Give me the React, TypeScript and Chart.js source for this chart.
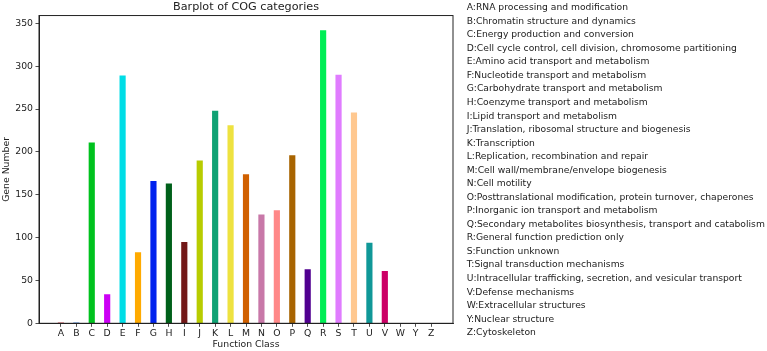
import React, { useEffect, useRef } from "react";
import { Chart, registerables } from "chart.js";

Chart.register(...registerables);

const categories = ["A","B","C","D","E","F","G","H","I","J","K","L","M","N","O","P","Q","R","S","T","U","V","W","Y","Z"];
const geneNumbers = [1,1,211,34,289,83,166,163,95,190,248,231,174,127,132,196,63,342,290,246,94,61,0,0,0];
const barColors = [
  "#d0404a","#3f7fd8","#00c21e","#cc00f5","#00dde6","#ffaa00","#0022ee","#00601a","#721818","#b8cc00",
  "#10a274","#eee240","#d06000","#c878a8","#ff8888","#a86400","#500090","#00ee55","#e07cff","#ffc890",
  "#109898","#cc0066","#888888","#888888","#888888"
];
const yTickValues = [0,50,100,150,200,250,300,350];
const descriptions = [
  "A:RNA processing and modification",
  "B:Chromatin structure and dynamics",
  "C:Energy production and conversion",
  "D:Cell cycle control, cell division, chromosome partitioning",
  "E:Amino acid transport and metabolism",
  "F:Nucleotide transport and metabolism",
  "G:Carbohydrate transport and metabolism",
  "H:Coenzyme transport and metabolism",
  "I:Lipid transport and metabolism",
  "J:Translation, ribosomal structure and biogenesis",
  "K:Transcription",
  "L:Replication, recombination and repair",
  "M:Cell wall/membrane/envelope biogenesis",
  "N:Cell motility",
  "O:Posttranslational modification, protein turnover, chaperones",
  "P:Inorganic ion transport and metabolism",
  "Q:Secondary metabolites biosynthesis, transport and catabolism",
  "R:General function prediction only",
  "S:Function unknown",
  "T:Signal transduction mechanisms",
  "U:Intracellular trafficking, secretion, and vesicular transport",
  "V:Defense mechanisms",
  "W:Extracellular structures",
  "Y:Nuclear structure",
  "Z:Cytoskeleton"
];

const INK = "#222222";

const frame = {
  id: "frame",
  afterDraw(chart: any) {
    const { ctx, chartArea } = chart;
    ctx.save();
    ctx.strokeStyle = INK;
    ctx.lineWidth = 1;
    ctx.strokeRect(chartArea.left, chartArea.top, chartArea.right - chartArea.left, chartArea.bottom - chartArea.top);
    ctx.restore();
  }
};

export default function App() {
  const ref = useRef<HTMLCanvasElement>(null);
  useEffect(() => {
    Chart.defaults.font.family = "'DejaVu Sans'";
    const n = categories.length;
    const maxV = Math.max(...geneNumbers);
    const chart = new Chart(ref.current!, {
      type: "bar",
      data: {
        datasets: [{
          data: categories.map((c, i) => ({ x: i, y: geneNumbers[i] })),
          backgroundColor: barColors,
          borderWidth: 0,
          barPercentage: 0.4,
          categoryPercentage: 1,
        }]
      },
      plugins: [frame],
      options: {
        responsive: false,
        devicePixelRatio: 1,
        animation: false,
        layout: { padding: { left: 0, top: 0, right: 314, bottom: 0 } },
        plugins: {
          legend: { display: false },
          tooltip: { enabled: false },
          title: {
            display: true,
            text: "Barplot of COG categories",
            fullSize: false,
            color: INK,
            font: { size: 11.2, weight: "normal", lineHeight: 1.2 },
            padding: { top: 0, bottom: 2.1 },
          },
        },
        scales: {
          x: {
            type: "linear",
            offset: false,
            min: -0.2 - 0.05 * (n - 1 + 0.4),
            max: n - 1 + 0.2 + 0.05 * (n - 1 + 0.4),
            afterBuildTicks: (s: any) => { s.ticks = categories.map((c, i) => ({ value: i })); },
            afterFit: (s: any) => { s.height = 27.7; },
            grid: { drawOnChartArea: false, color: INK, tickLength: 3.5, lineWidth: 0.8, offset: false },
            border: { display: true, color: INK, width: 1 },
            ticks: {
              autoSkip: false, maxRotation: 0, color: INK, padding: 1.5,
              font: { size: 9.3 },
              callback: (v: any) => categories[Math.round(v)] ?? "",
            },
            title: { display: true, text: "Function Class", color: INK, font: { size: 9.3 }, padding: { top: 0, bottom: 1.2 } },
          },
          y: {
            type: "linear",
            min: 0,
            max: maxV * 1.05,
            afterBuildTicks: (s: any) => { s.ticks = yTickValues.map((v) => ({ value: v })); },
            afterFit: (s: any) => { s.width = 39; },
            grid: { drawOnChartArea: false, color: INK, tickLength: 3.5, lineWidth: 0.8 },
            border: { display: true, color: INK, width: 1 },
            ticks: { color: INK, padding: 2.5, font: { size: 9.3 } },
            title: { display: true, text: "Gene Number", color: INK, font: { size: 9.3 }, padding: { top: 1.2, bottom: 0 } },
          },
        },
      } as any,
    });
    return () => chart.destroy();
  }, []);

  return (
    <div style={{ position: "fixed", left: 0, top: 0, width: 767, height: 351, background: "#fff" }}>
      <canvas ref={ref} width={767} height={351} style={{ position: "absolute", left: 0, top: 0 }} />
      {descriptions.map((d, i) => (
        <div
          key={d}
          style={{
            position: "absolute",
            left: 466.7,
            top: 0.2 + i * 13.54,
            height: 13.54,
            lineHeight: "13.54px",
            fontFamily: "'DejaVu Sans'",
            fontSize: 9.2,
            color: INK,
            whiteSpace: "nowrap",
          }}
        >
          {d}
        </div>
      ))}
    </div>
  );
}
